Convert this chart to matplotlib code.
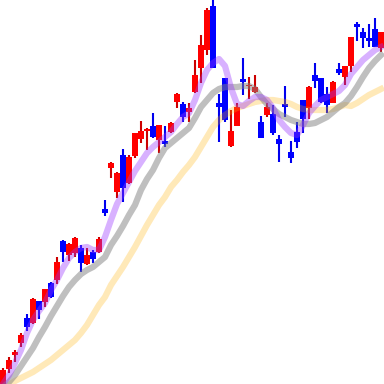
import numpy as np
import matplotlib
matplotlib.use('Agg')
import matplotlib.pyplot as plt

# daily candles
opens = [-4, 15, 29, 41, 66, 61, 83, 82, 101, 104, 143, 129, 131, 136, 120, 132,
         132, 175, 216, 192, 229, 201, 228, 245, 253, 258, 244, 243, 252, 282, 280, 272,
         292, 316, 334, 378, 281, 306, 238, 258, 305, 298, 292, 262, 269, 270, 245, 280,
         232, 252, 284, 276, 309, 306, 290, 281, 315, 307, 318, 360, 352, 346, 355, 336]
highs = [16, 27, 34, 51, 70, 86, 83, 95, 102, 127, 144, 141, 147, 139, 136, 134,
         147, 184, 222, 212, 235, 229, 251, 263, 256, 271, 259, 258, 262, 291, 282, 281,
         324, 349, 376, 387, 290, 306, 274, 281, 326, 307, 309, 268, 281, 279, 249, 298,
         243, 262, 284, 298, 321, 306, 297, 303, 321, 318, 347, 362, 356, 360, 366, 352]
lows = [-6, 11, 22, 37, 53, 60, 65, 77, 86, 100, 122, 123, 127, 112, 119, 121,
        131, 168, 206, 186, 182, 200, 226, 241, 234, 246, 231, 237, 251, 276, 262, 262,
        291, 301, 329, 316, 242, 262, 237, 258, 289, 285, 291, 246, 267, 249, 222, 267,
        221, 236, 251, 265, 296, 281, 271, 281, 309, 299, 312, 343, 336, 337, 337, 332]
closes = [14, 24, 32, 49, 57, 85, 74, 95, 87, 122, 132, 140, 146, 121, 129, 125,
          145, 171, 221, 211, 196, 227, 251, 253, 255, 247, 259, 240, 261, 290, 267, 276,
          309, 339, 374, 316, 277, 264, 253, 277, 302, 299, 297, 246, 277, 251, 240, 277,
          226, 242, 265, 297, 303, 282, 279, 302, 311, 318, 347, 357, 346, 343, 337, 352]

# moving averages as drawn
ma_short = [0, 9, 21, 34, 51, 64, 73, 81, 94, 104, 116, 126, 132, 136, 137, 134,
            134, 147, 164, 180, 191, 202, 213, 222, 231, 237, 242, 247, 252, 260, 267, 271,
            284, 301, 314, 321, 325, 318, 296, 280, 278, 283, 287, 287, 284, 276, 264, 257,
            251, 249, 259, 271, 278, 284, 287, 290, 293, 299, 310, 317, 324, 329, 334, 337]
ma_mid = [-3, 2, 9, 18, 27, 36, 47, 57, 68, 78, 88, 97, 104, 110, 114, 117,
          122, 127, 139, 148, 158, 169, 179, 194, 205, 214, 226, 236, 241, 246, 251, 256,
          266, 277, 284, 291, 295, 297, 297, 297, 298, 298, 295, 287, 280, 275, 270, 267,
          264, 262, 260, 260, 261, 264, 267, 272, 277, 281, 288, 297, 307, 316, 323, 329]
ma_long = [-6, -1, 3, 6, 9, 12, 16, 20, 24, 29, 34, 39, 44, 51, 59, 69,
           79, 87, 99, 108, 117, 127, 137, 148, 159, 169, 179, 187, 197, 204, 212, 219,
           227, 237, 247, 257, 264, 269, 273, 276, 278, 280, 282, 283, 284, 284, 283, 282,
           280, 277, 275, 274, 274, 274, 274, 275, 277, 279, 278, 281, 285, 289, 292, 295]

o = np.array(opens)
h = np.array(highs)
l = np.array(lows)
c = np.array(closes)
x = np.arange(len(o))
up = c >= o

fig = plt.figure(figsize=(3.84, 3.84), dpi=100)
ax = fig.add_axes([0, 0, 1, 1])

ax.vlines(x[up], l[up], h[up], color='#cc0000', linewidth=1.5, zorder=1)
ax.vlines(x[~up], l[~up], h[~up], color='#0000ee', linewidth=1.5, zorder=1)
ax.bar(x[up], (c - o)[up], bottom=o[up], width=0.9, color='#ff0000', zorder=2)
ax.bar(x[~up], (o - c)[~up], bottom=c[~up], width=0.9, color='#0000ff', zorder=2)

ax.plot(x, ma_long, color='#ffb000', alpha=0.28, linewidth=4.5, zorder=3)
ax.plot(x, ma_mid, color='#808080', alpha=0.5, linewidth=4.5, zorder=4)
ax.plot(x, ma_short, color='#9933ff', alpha=0.38, linewidth=4.5, zorder=5)

ax.set_xlim(-0.5, len(o) - 0.5)
ax.set_ylim(0, 384)
ax.axis('off')

fig.savefig('out.png', dpi=100)
